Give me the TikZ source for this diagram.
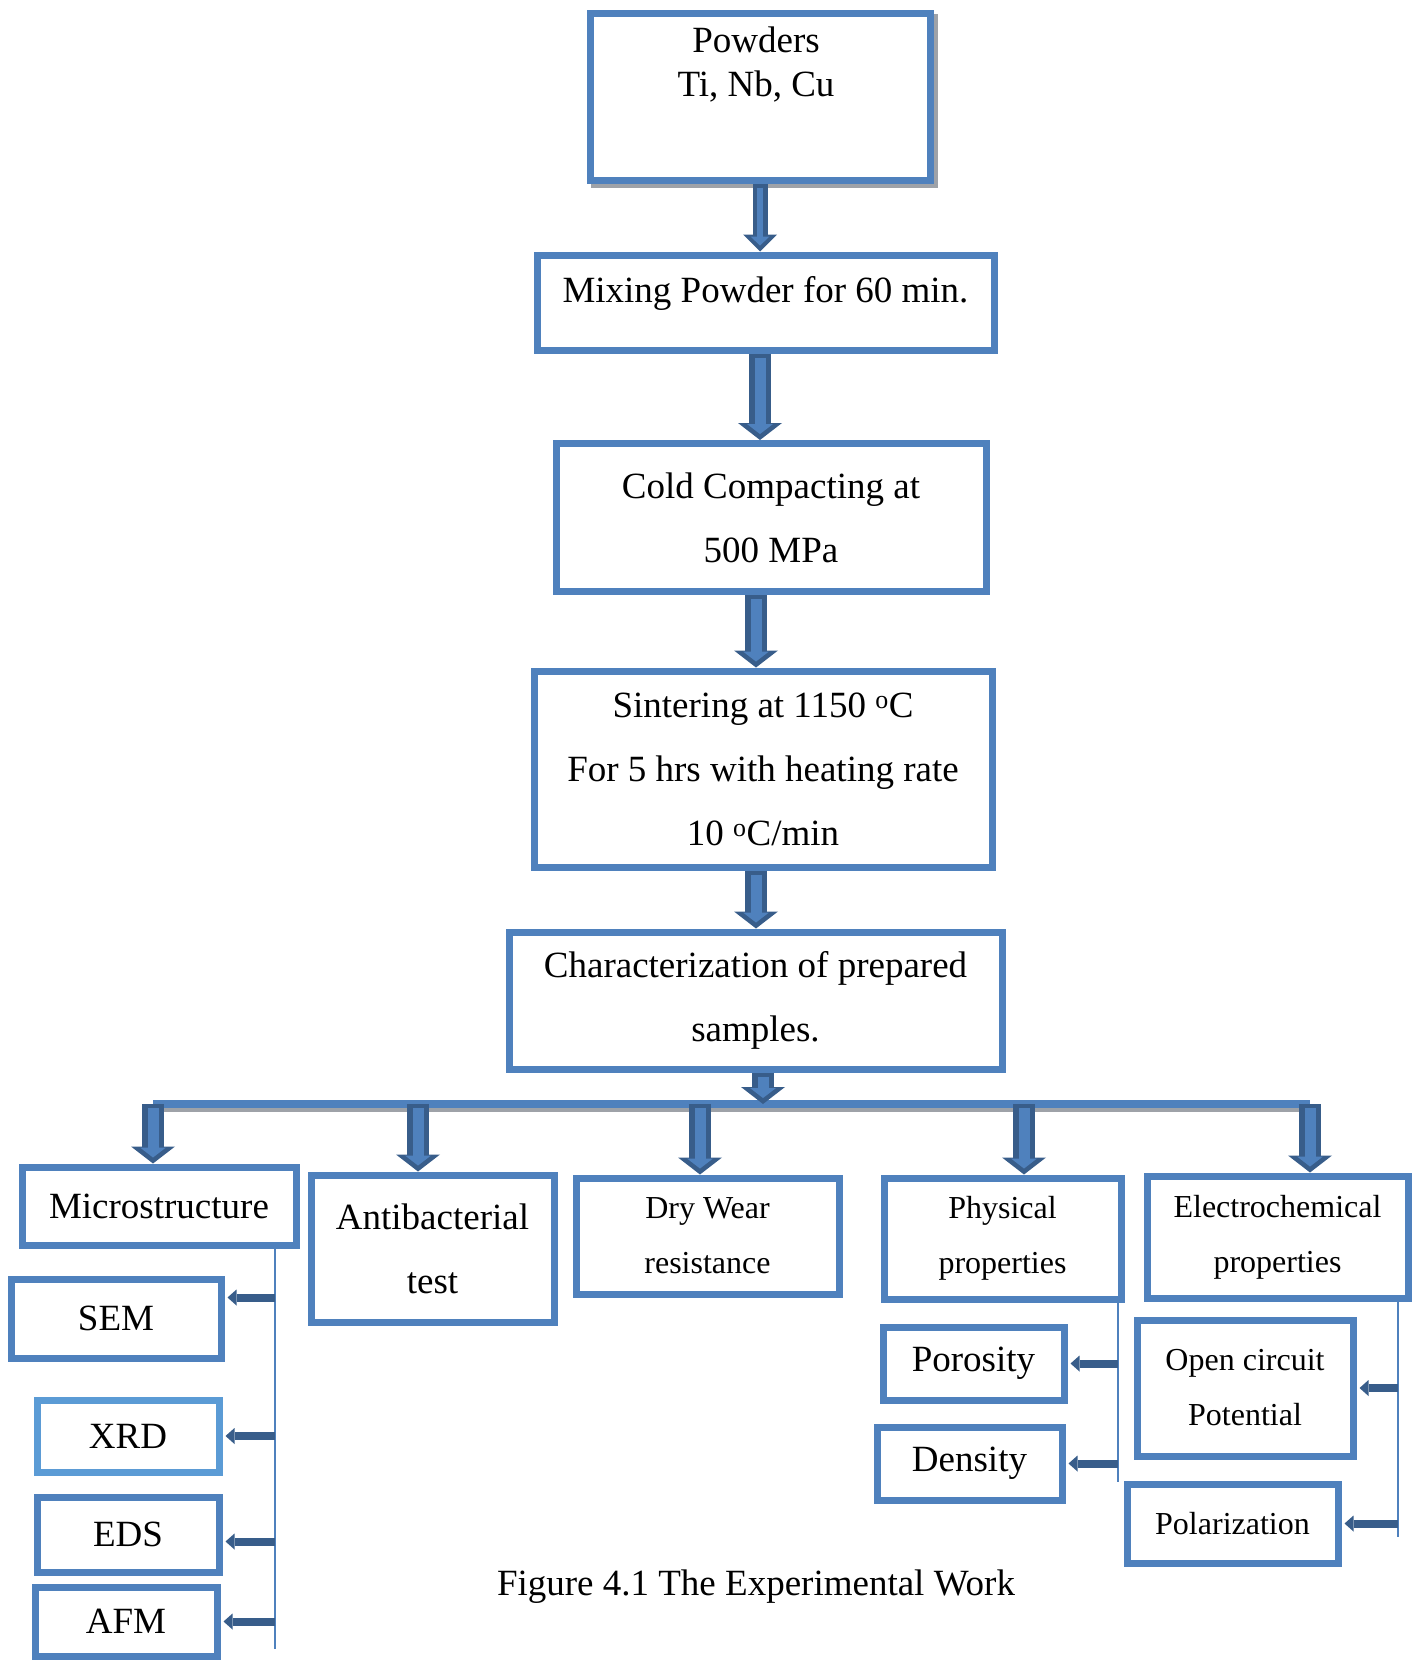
\documentclass[tikz,border=0pt]{standalone}
\usepackage{fontspec}
\setmainfont{Liberation Serif}
\usetikzlibrary{shapes,arrows.meta,positioning,shadows}

\definecolor{boxblue}{RGB}{79,129,189}
\definecolor{xrdblue}{RGB}{91,155,213}
\definecolor{arrowdark}{RGB}{56,93,138}
\definecolor{shadowgray}{RGB}{158,162,168}

\newcommand{\boxfont}{\fontsize{37}{64}\selectfont}
\newcommand{\smallboxfont}{\fontsize{32}{55}\selectfont}

\tikzstyle{block} = [rectangle, draw=boxblue, line width=7pt, fill=white,
    align=center, inner sep=0pt, font=\boxfont]
\tikzstyle{smallblock} = [block, font=\smallboxfont]
\tikzstyle{bigarrow} = [draw=arrowdark, line width=22pt,
    -{Triangle[width=44pt,length=17pt,line width=0pt]},
    postaction={draw=boxblue, line width=11pt, shorten <=4pt, shorten >=6pt,
      -{Triangle[width=26pt,length=10pt,line width=0pt]}}]
\tikzstyle{slimarrow} = [draw=arrowdark, line width=15pt,
    -{Triangle[width=34pt,length=17pt,line width=0pt]},
    postaction={draw=boxblue, line width=6pt, shorten <=4pt, shorten >=6pt,
      -{Triangle[width=19pt,length=9pt,line width=0pt]}}]
\tikzstyle{smallarrow} = [draw=arrowdark, line width=8pt, shorten >=3pt,
    -{Triangle[width=16pt,length=9pt,line width=0pt]}]
\tikzstyle{branch} = [draw=boxblue, line width=2pt]
\tikzstyle{bar} = [draw=boxblue, line width=8pt]
\tikzstyle{barshadow} = [draw=shadowgray, line width=5pt]

\begin{document}
\begin{tikzpicture}[x=1pt, y=-1pt]
    \useasboundingbox (0,0) rectangle (1418,1660);

    \node [block, minimum width=340pt, minimum height=167pt,
        general shadow={shadow xshift=4.5pt, shadow yshift=-4.5pt, draw=shadowgray, fill=shadowgray}] (powders) at (760,96.5) {};
    \node [anchor=north, align=center, inner sep=0pt, font=\fontsize{37}{44}\selectfont] (powderstext) at ([xshift=-4pt,yshift=-17pt]powders.north) {Powders\\Ti, Nb, Cu};
    \node [block, minimum width=457pt, minimum height=95pt, text height=25pt, text depth=25pt, below of=powders, node distance=206pt, xshift=5.5pt] (mixing) {Mixing Powder for 60 min.};
    \node [block, minimum width=430pt, minimum height=148pt, below of=mixing, node distance=215pt, xshift=5.5pt] (cold) {Cold Compacting at\\500 MPa};
    \node [block, minimum width=458pt, minimum height=196pt, below of=cold, node distance=251.5pt, xshift=-8pt] (sinter) {Sintering at 1150 \textsuperscript{o}C\\For 5 hrs with heating rate\\10 \textsuperscript{o}C/min};
    \node [block, minimum width=493pt, minimum height=137pt, below of=sinter, node distance=231.5pt, xshift=-7.5pt] (charac) {Characterization of prepared\\samples.};

    \node [block, minimum width=274pt, minimum height=78pt] (micro) at (159,1206) {Microstructure};
    \node [block, minimum width=243pt, minimum height=147pt] (antibac) at (432.5,1248.5) {Antibacterial\\test};
    \node [smallblock, minimum width=263pt, minimum height=116pt] (drywear) at (707.5,1236) {Dry Wear\\resistance};
    \node [smallblock, minimum width=237pt, minimum height=121pt] (physical) at (1002.5,1238.5) {Physical\\properties};
    \node [smallblock, minimum width=261pt, minimum height=122pt] (electro) at (1277.5,1237) {Electrochemical\\properties};

    \node [block, minimum width=210pt, minimum height=79pt, below of=micro, node distance=112.5pt, xshift=-43pt] (sem) {SEM};
    \node [block, draw=xrdblue, minimum width=182pt, minimum height=72pt, below of=sem, node distance=117.5pt, xshift=12pt] (xrd) {XRD};
    \node [block, minimum width=182pt, minimum height=75pt, below of=xrd, node distance=98.5pt] (eds) {EDS};
    \node [block, minimum width=182pt, minimum height=69pt, below of=eds, node distance=87pt, xshift=-2pt] (afm) {AFM};
    \node [block, minimum width=181pt, minimum height=73pt, below of=physical, node distance=125pt, xshift=-29pt] (porosity) {Porosity};
    \node [block, minimum width=185pt, minimum height=73pt, below of=porosity, node distance=100pt, xshift=-4pt] (density) {Density};
    \node [smallblock, minimum width=216pt, minimum height=136pt, below of=electro, node distance=151pt, xshift=-32.5pt] (opencirc) {Open circuit\\Potential};
    \node [smallblock, minimum width=211pt, minimum height=79pt, below of=opencirc, node distance=135.5pt, xshift=-12.5pt] (polar) {Polarization};

    \node [font=\boxfont] (caption) at (756,1587) {Figure 4.1 The Experimental Work};

    \draw [slimarrow] (powders) -- (powders |- mixing.north);
    \coordinate (a2) at ([xshift=-5.5pt]mixing.south);
    \draw [bigarrow] (a2) -- (a2 |- cold.north);
    \coordinate (a3) at ([xshift=-15pt]cold.south);
    \draw [bigarrow] (a3) -- (a3 |- sinter.north);
    \coordinate (a4) at ([xshift=-7pt]sinter.south);
    \draw [bigarrow] (a4) -- (a4 |- charac.north);

    \coordinate (barL) at (153,1104);
    \coordinate (barR) at (1310,1104);
    \draw [barshadow] ([yshift=-5pt]barL) -- ([yshift=-5pt]barR);
    \draw [bar] (barL) -- (barR);
    \coordinate (a5) at ([xshift=7.5pt]charac.south);
    \draw [bigarrow] (a5) -- (a5 |- barL);

    \draw [bigarrow] (barL) -- (barL |- micro.north);
    \coordinate (b2) at ([xshift=-14.5pt]antibac.north);
    \draw [bigarrow] (b2 |- barL) -- (b2);
    \coordinate (b3) at ([xshift=-7.5pt]drywear.north);
    \draw [bigarrow] (b3 |- barL) -- (b3);
    \coordinate (b4) at ([xshift=21.5pt]physical.north);
    \draw [bigarrow] (b4 |- barL) -- (b4);
    \draw [bigarrow] (barR) -- (barR |- electro.north);

    \coordinate (microline) at ([xshift=-25pt]micro.south east);
    \draw [branch] (microline) -- ++(0,400);
    \coordinate (semtip) at ([yshift=21pt]sem.east);
    \draw [smallarrow] (microline |- semtip) -- (semtip);
    \draw [smallarrow] (microline |- xrd.east) -- (xrd.east);
    \coordinate (edstip) at ([yshift=-7pt]eds.east);
    \draw [smallarrow] (microline |- edstip) -- (edstip);
    \draw [smallarrow] (microline |- afm.east) -- (afm.east);

    \coordinate (physline) at ([xshift=-7pt]physical.south east);
    \draw [branch] (physline) -- ++(0,179);
    \draw [smallarrow] (physline |- porosity.east) -- (porosity.east);
    \draw [smallarrow] (physline |- density.east) -- (density.east);

    \coordinate (electroline) at ([xshift=-14pt]electro.south east);
    \draw [branch] (electroline) -- ++(0,235);
    \draw [smallarrow] (electroline |- opencirc.east) -- (opencirc.east);
    \draw [smallarrow] (electroline |- polar.east) -- (polar.east);

\end{tikzpicture}
\end{document}
